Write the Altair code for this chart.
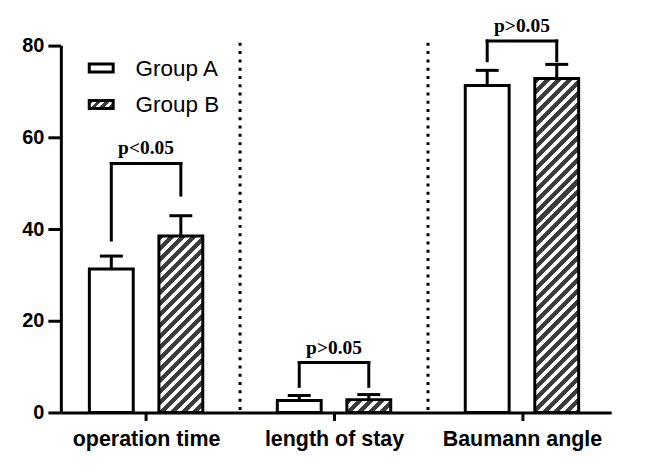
import json
import altair as alt
import pandas as pd

# ---------------- data ----------------
categories = ["operation time", "length of stay", "Baumann angle"]
groups = ["Group A", "Group B"]
mean_a = [31.3, 2.6, 71.3]
sd_a = [2.8, 1.1, 3.3]
mean_b = [38.5, 2.8, 72.8]
sd_b = [4.4, 1.1, 3.1]
bracket_top = [54.3, 10.9, 81.0]
bracket_left_end = [37.6, 5.7, 76.7]
bracket_right_end = [47.4, 5.7, 76.7]
p_labels = ["p<0.05", "p>0.05", "p>0.05"]
y_ticks = [0, 20, 40, 60, 80]
separator_top = 80.6

# ---------------- layout / style constants ----------------
W, H = 552, 368
YMAX = 80
OFF = 0.185            # group offset within a category (x units)
XDOM = [-0.427, 2.448]
BAR = 44               # bar width in px (stroke adds 3)
DARK = "#3c3c3c"
SANS = "Liberation Sans"
SERIF = "Liberation Serif"


def hatch(w, h, period=11.0, frac_dark=0.55):
    """Linear gradient with hard stops -> '/' stripes at 45 degrees."""
    k = (w + h) / (w * w + h * h)
    p = period / (w + h)
    stops = []
    t = 0.0
    while t < 1.0:
        a = round(t, 4)
        b = round(min(t + p * frac_dark, 1.0), 4)
        c = round(min(t + p, 1.0), 4)
        stops += [
            {"offset": a, "color": DARK},
            {"offset": b, "color": DARK},
            {"offset": b, "color": "white"},
            {"offset": c, "color": "white"},
        ]
        t += p
    return {"gradient": "linear", "x1": 0, "y1": 0,
            "x2": round(k * w, 4), "y2": round(k * h, 4), "stops": stops}


rows = []
for i, c in enumerate(categories):
    rows.append(dict(cat=c, idx=i, group=groups[0], x=i - OFF,
                     mean=mean_a[i], top=mean_a[i] + sd_a[i]))
    rows.append(dict(cat=c, idx=i, group=groups[1], x=i + OFF,
                     mean=mean_b[i], top=mean_b[i] + sd_b[i]))
bars = pd.DataFrame(rows)

br = pd.DataFrame(dict(
    cat=categories,
    xl=[i - OFF for i in range(len(categories))],
    xr=[i + OFF for i in range(len(categories))],
    xm=[float(i) for i in range(len(categories))],
    top=bracket_top,
    lend=bracket_left_end,
    rend=bracket_right_end,
    label=p_labels,
))

sep = pd.DataFrame(dict(x=[i + 0.5 for i in range(len(categories) - 1)],
                        top=[separator_top] * (len(categories) - 1),
                        zero=[0] * (len(categories) - 1)))

xscale = alt.Scale(domain=XDOM, zero=False, nice=False)
yscale = alt.Scale(domain=[0, YMAX], zero=True, nice=False)
label_expr = json.dumps(categories) + "[datum.value]"
xaxis = alt.Axis(values=list(range(len(categories))), labelExpr=label_expr,
                 title="", grid=False, domainColor="black", domainWidth=3,
                 tickColor="black", tickWidth=3, tickSize=8,
                 labelFont=SANS, labelFontSize=21.5, labelFontWeight="bold",
                 labelColor="black", labelPadding=8)
yaxis = alt.Axis(values=y_ticks, title="", grid=False, domainColor="black",
                 domainWidth=3, tickColor="black", tickWidth=3, tickSize=13,
                 labelFont=SANS, labelFontSize=20, labelFontWeight="bold",
                 labelColor="black", labelPadding=4)


def X(f):
    return alt.X(f, type="quantitative", scale=xscale, axis=xaxis)


def Y(f):
    return alt.Y(f, type="quantitative", scale=yscale, axis=yaxis)


layers = []

# dotted separators
layers.append(alt.Chart(sep).mark_rule(color="black", strokeWidth=3,
                                        strokeDash=[3, 5.3]).encode(
    x=X("x"), y=Y("top"), y2=alt.Y2("zero")))

# Group A bars
layers.append(alt.Chart(bars).transform_filter(
    alt.datum.group == groups[0]).mark_bar(
    size=BAR, fill="white", stroke="black", strokeWidth=3).encode(
    x=X("x"), y=Y("mean")))

# Group B bars (hatched, one layer per bar for the gradient geometry)
for i, c in enumerate(categories):
    h = mean_b[i] * H / YMAX
    layers.append(alt.Chart(bars).transform_filter(
        (alt.datum.group == groups[1]) & (alt.datum.idx == i)).mark_bar(
        size=BAR, fill=hatch(BAR, h), stroke="black", strokeWidth=3).encode(
        x=X("x"), y=Y("mean")))

# error bars
layers.append(alt.Chart(bars).mark_rule(color="black", strokeWidth=3).encode(
    x=X("x"), y=Y("mean"), y2=alt.Y2("top")))
layers.append(alt.Chart(bars).mark_tick(color="black", orient="horizontal",
                                         size=23, thickness=3, opacity=1).encode(
    x=X("x"), y=Y("top")))

# significance brackets
layers.append(alt.Chart(br).mark_rule(color="black", strokeWidth=3,
                                       strokeCap="square").encode(
    x=X("xl"), y=Y("lend"), y2=alt.Y2("top")))
layers.append(alt.Chart(br).mark_rule(color="black", strokeWidth=3,
                                       strokeCap="square").encode(
    x=X("xr"), y=Y("rend"), y2=alt.Y2("top")))
layers.append(alt.Chart(br).mark_rule(color="black", strokeWidth=3,
                                       strokeCap="square").encode(
    x=X("xl"), x2=alt.X2("xr"), y=Y("top")))
layers.append(alt.Chart(br).mark_text(font=SERIF, fontSize=19.5, fontWeight="bold",
                                       color="black", baseline="alphabetic",
                                       dy=-9).encode(
    x=X("xm"), y=Y("top"), text="label:N"))

# manual legend
leg = pd.DataFrame(dict(group=groups))
leg_y = [22.5, 59]
for gi, g in enumerate(groups):
    fill = "white" if gi == 0 else hatch(24, 8, period=8.5, frac_dark=0.55)
    layers.append(alt.Chart(leg).transform_filter(alt.datum.group == g).mark_rect(
        fill=fill, stroke="black", strokeWidth=3).encode(
        x=alt.value(28.5), x2=alt.value(52.5),
        y=alt.value(leg_y[gi] - 4), y2=alt.value(leg_y[gi] + 4)))
    layers.append(alt.Chart(leg).transform_filter(alt.datum.group == g).mark_text(
        font=SANS, fontSize=22.5, color="black", align="left",
        baseline="alphabetic").encode(
        x=alt.value(75), y=alt.value(leg_y[gi] + 8), text="group:N"))

chart = alt.layer(*layers).properties(
    width=W, height=H,
    autosize=alt.AutoSizeParams(type="none"),
    padding={"left": 53, "top": 37, "right": 50, "bottom": 55},
).configure_view(stroke="transparent")

chart.save("out.html", embed_options={"renderer": "svg", "actions": False})
